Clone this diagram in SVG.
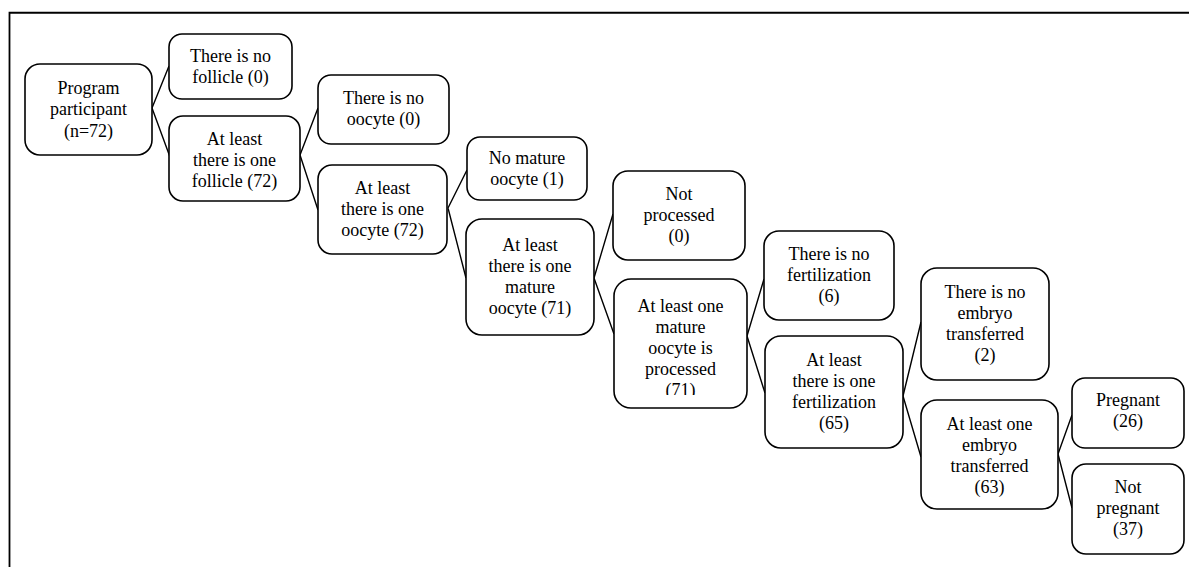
<svg xmlns="http://www.w3.org/2000/svg" width="1189" height="567" viewBox="0 0 1189 567">
<style>
.b{fill:#fff;stroke:#000;stroke-width:1.6}
.t{font-family:"Liberation Serif","Times New Roman",serif;font-size:18px;fill:#000;text-anchor:middle}
.c{stroke:#000;stroke-width:1.4;fill:none}
</style>
<defs>
<clipPath id="clip9"><rect x="614" y="279" width="133" height="116"/></clipPath>
</defs>
<rect x="0" y="0" width="1189" height="567" fill="#fff"/>
<path d="M9.5 567 V12.75 H1189" fill="none" stroke="#000" stroke-width="1.8"/>
<g id="connectors">
<path class="c" d="M152 108 L169 66 M152 108 L170 157"/>
<path class="c" d="M300 155 L318 108 M300 155 L318 210"/>
<path class="c" d="M448 208 L467 170 M448 208 L466 278"/>
<path class="c" d="M594 278 L613 214 M594 278 L614 334"/>
<path class="c" d="M747 336 L764 279 M747 336 L765 393"/>
<path class="c" d="M903 396 L921 322 M903 396 L921 457"/>
<path class="c" d="M1058 454 L1072 415 M1058 454 L1072 508"/>
</g>
<g id="n1"><rect class="b" x="25" y="64" width="127" height="91" rx="15"/>
<text class="t"><tspan x="88.5" y="93.5">Program</tspan><tspan x="88.5" y="115">participant</tspan><tspan x="88.5" y="136.5">(n=72)</tspan></text></g>
<g id="n2"><rect class="b" x="169" y="34" width="123" height="65" rx="13"/>
<text class="t"><tspan x="230.5" y="62">There is no</tspan><tspan x="230.5" y="83">follicle (0)</tspan></text></g>
<g id="n3"><rect class="b" x="169" y="116" width="131" height="85" rx="14"/>
<text class="t"><tspan x="234.5" y="145">At least</tspan><tspan x="234.5" y="166">there is one</tspan><tspan x="234.5" y="187">follicle (72)</tspan></text></g>
<g id="n4"><rect class="b" x="318" y="75" width="131" height="69" rx="13"/>
<text class="t"><tspan x="383.5" y="104">There is no</tspan><tspan x="383.5" y="125">oocyte (0)</tspan></text></g>
<g id="n5"><rect class="b" x="318" y="165" width="129" height="89" rx="14"/>
<text class="t"><tspan x="382.5" y="194">At least</tspan><tspan x="382.5" y="215">there is one</tspan><tspan x="382.5" y="236">oocyte (72)</tspan></text></g>
<g id="n6"><rect class="b" x="467" y="137" width="120" height="63" rx="13"/>
<text class="t"><tspan x="527" y="164">No mature</tspan><tspan x="527" y="185">oocyte (1)</tspan></text></g>
<g id="n7"><rect class="b" x="466" y="219" width="128" height="116" rx="16"/>
<text class="t"><tspan x="530" y="251">At least</tspan><tspan x="530" y="272">there is one</tspan><tspan x="530" y="293">mature</tspan><tspan x="530" y="314">oocyte (71)</tspan></text></g>
<g id="n8"><rect class="b" x="613" y="171" width="132" height="89" rx="15"/>
<text class="t"><tspan x="679" y="200">Not</tspan><tspan x="679" y="221">processed</tspan><tspan x="679" y="242">(0)</tspan></text></g>
<g id="n9"><rect class="b" x="614" y="279" width="133" height="129" rx="17"/>
<text class="t" clip-path="url(#clip9)"><tspan x="680.5" y="311.5">At least one</tspan><tspan x="680.5" y="332.5">mature</tspan><tspan x="680.5" y="353.5">oocyte is</tspan><tspan x="680.5" y="374.5">processed</tspan><tspan x="680.5" y="395.5">(71)</tspan></text></g>
<g id="n10"><rect class="b" x="764" y="231" width="130" height="89" rx="15"/>
<text class="t"><tspan x="829" y="260">There is no</tspan><tspan x="829" y="281">fertilization</tspan><tspan x="829" y="302">(6)</tspan></text></g>
<g id="n11"><rect class="b" x="765" y="336" width="138" height="112" rx="16"/>
<text class="t"><tspan x="834" y="365.5">At least</tspan><tspan x="834" y="386.5">there is one</tspan><tspan x="834" y="407.5">fertilization</tspan><tspan x="834" y="428.5">(65)</tspan></text></g>
<g id="n12"><rect class="b" x="921" y="268" width="128" height="112" rx="16"/>
<text class="t"><tspan x="985" y="298">There is no</tspan><tspan x="985" y="319">embryo</tspan><tspan x="985" y="340">transferred</tspan><tspan x="985" y="361">(2)</tspan></text></g>
<g id="n13"><rect class="b" x="921" y="400" width="137" height="109" rx="16"/>
<text class="t"><tspan x="989.5" y="430">At least one</tspan><tspan x="989.5" y="451">embryo</tspan><tspan x="989.5" y="472">transferred</tspan><tspan x="989.5" y="493">(63)</tspan></text></g>
<g id="n14"><rect class="b" x="1072" y="378" width="112" height="70" rx="13"/>
<text class="t"><tspan x="1128" y="406">Pregnant</tspan><tspan x="1128" y="427">(26)</tspan></text></g>
<g id="n15"><rect class="b" x="1072" y="464" width="112" height="90" rx="14"/>
<text class="t"><tspan x="1128" y="493">Not</tspan><tspan x="1128" y="514">pregnant</tspan><tspan x="1128" y="535">(37)</tspan></text></g>
</svg>
